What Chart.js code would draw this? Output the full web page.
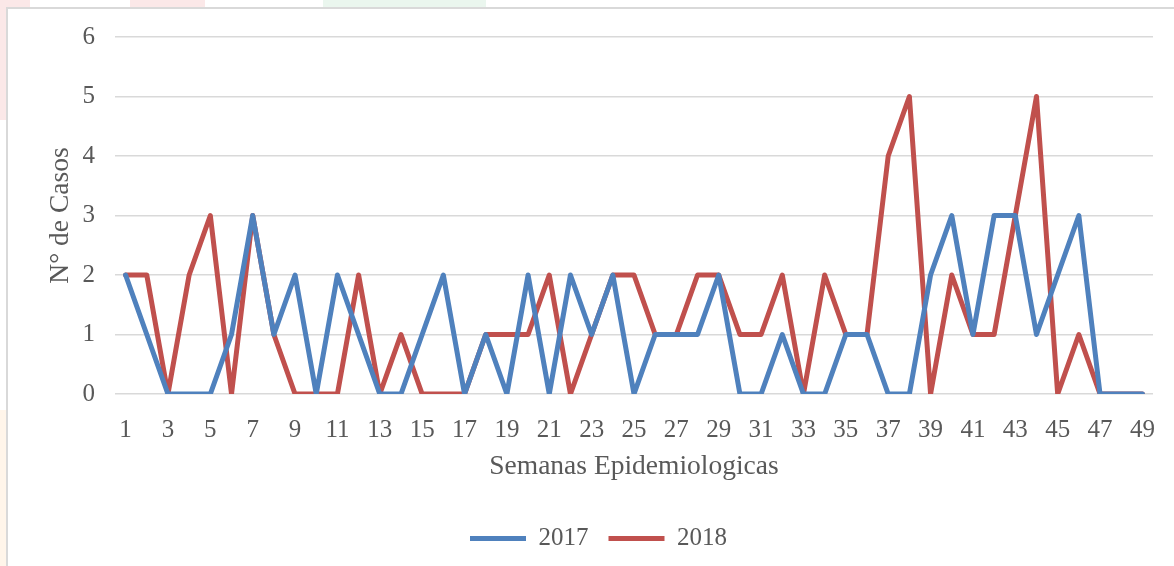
<!DOCTYPE html>
<html>
<head>
<meta charset="utf-8">
<script src="https://cdn.jsdelivr.net/npm/chart.js@4/dist/chart.umd.min.js"></script>
<style>
  body { margin: 0; background: #fff; }
  #wrap { position: relative; width: 1174px; height: 566px; overflow: hidden; }
  .bg { position: absolute; }
  #frame { position: absolute; left: 6px; top: 7px; width: 1180px; height: 600px; border-left: 2px solid #d9d9d9; border-top: 2px solid #d9d9d9; background: #fff; }
  canvas { position: absolute; left: 0; top: 0; }
</style>
</head>
<body>
<div id="wrap">
  <!-- faint bits of the page watermark behind the chart frame -->
  <div class="bg" style="left:0;top:0;width:30px;height:120px;background:#fbe8e8"></div>
  <div class="bg" style="left:130px;top:0;width:75px;height:8px;background:#fbe8e8"></div>
  <div class="bg" style="left:323px;top:0;width:163px;height:8px;background:#eaf6ee"></div>
  <div class="bg" style="left:0;top:410px;width:6px;height:156px;background:#fff5ea"></div>
  <div id="frame"></div>
  <canvas id="myChart" width="1174" height="566"></canvas>
</div>
<script>
const ctx = document.getElementById('myChart')

// semanas 1..49
const weeks = []
for (let w = 1; w <= 49; w++) weeks.push(String(w))

const cases2017 = [2, 1, 0, 0, 0, 1, 3, 1, 2, 0,
                   2, 1, 0, 0, 1, 2, 0, 1, 0, 2,
                   0, 2, 1, 2, 0, 1, 1, 1, 2, 0,
                   0, 1, 0, 0, 1, 1, 0, 0, 2, 3,
                   1, 3, 3, 1, 2, 3, 0, 0, 0]

const cases2018 = [2, 2, 0, 2, 3, 0, 3, 1, 0, 0,
                   0, 2, 0, 1, 0, 0, 0, 1, 1, 1,
                   2, 0, 1, 2, 2, 1, 1, 2, 2, 1,
                   1, 2, 0, 2, 1, 1, 4, 5, 0, 2,
                   1, 1, 3, 5, 0, 1, 0, 0, 0]

const yTicks = [0, 1, 2, 3, 4, 5, 6]

const textColor = '#595959'
const fontFamily = '"Liberation Serif", "Times New Roman", serif'

const myChart = new Chart(ctx, {
  type: 'line',
  data: {
    labels: weeks,
    datasets: [{
      label: '2017',
      data: cases2017,
      borderColor: '#4f81bd',
      backgroundColor: '#4f81bd',
      borderWidth: 5,
      borderJoinStyle: 'round',
      borderCapStyle: 'round',
      pointRadius: 0,
      tension: 0
    }, {
      label: '2018',
      data: cases2018,
      borderColor: '#c0504d',
      backgroundColor: '#c0504d',
      borderWidth: 5,
      borderJoinStyle: 'round',
      borderCapStyle: 'round',
      pointRadius: 0,
      tension: 0
    }]
  },
  options: {
    responsive: false,
    animation: false,
    layout: {
      padding: { left: 44, right: 21, top: 37, bottom: 5 }
    },
    plugins: {
      tooltip: { enabled: false },
      legend: {
        position: 'bottom',
        labels: {
          color: textColor,
          font: { family: fontFamily, size: 25 },
          usePointStyle: true,
          pointStyle: 'line',
          pointStyleWidth: 56,
          boxHeight: 8,
          padding: 20
        }
      }
    },
    scales: {
      x: {
        offset: true,
        grid: { display: false },
        border: { display: false },
        ticks: {
          color: textColor,
          font: { family: fontFamily, size: 25 },
          autoSkip: false,
          maxRotation: 0,
          padding: 13,
          callback: function (value, index) {
            return index % 2 === 0 ? this.getLabelForValue(value) : ''
          }
        },
        title: {
          display: true,
          text: 'Semanas Epidemiologicas',
          color: textColor,
          font: { family: fontFamily, size: 27.5 },
          padding: { top: 0, bottom: 23 }
        },
        afterFit: (scale) => { scale.height = 112 }
      },
      y: {
        min: 0,
        max: 6,
        afterBuildTicks: (scale) => { scale.ticks = yTicks.map(v => ({ value: v })) },
        grid: { color: '#d9d9d9', lineWidth: 1.5, drawTicks: false },
        border: { display: false },
        ticks: {
          color: textColor,
          font: { family: fontFamily, size: 25 },
          padding: 20
        },
        title: {
          display: true,
          text: 'N° de Casos',
          color: textColor,
          font: { family: fontFamily, size: 27.5 },
          padding: { top: 0, bottom: 0 }
        },
        afterFit: (scale) => { scale.width = 71 }
      }
    }
  }
})
</script>
</body>
</html>
